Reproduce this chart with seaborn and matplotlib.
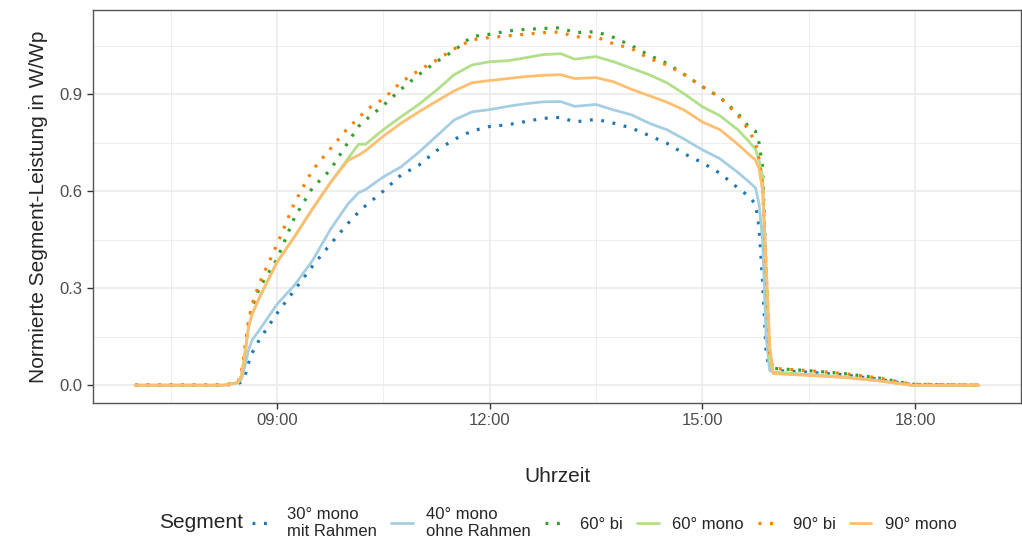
import numpy as np
import pandas as pd
import matplotlib
matplotlib.use("Agg")
import matplotlib.pyplot as plt
import seaborn as sns
from matplotlib.lines import Line2D

# time of day in hours
hours = [7.0, 8.25, 8.45, 8.5, 8.55, 8.6, 8.65, 8.75, 9.0, 9.25, 9.5, 9.75,
         10.0, 10.15, 10.25, 10.5, 10.75, 11.0, 11.25, 11.5, 11.75, 12.0,
         12.25, 12.5, 12.75, 13.0, 13.2, 13.5, 13.75, 14.0, 14.25, 14.5,
         14.75, 15.0, 15.25, 15.5, 15.65, 15.75, 15.8, 15.85, 15.9, 15.95,
         16.0, 16.5, 17.0, 17.5, 17.95, 18.9]

seg_30_mono = [0, 0, 0.005, 0.01, 0.03, 0.07, 0.10, 0.14, 0.222, 0.295, 0.368, 0.435,
               0.50, 0.535, 0.555, 0.60, 0.65, 0.68, 0.725, 0.76, 0.786, 0.80,
               0.805, 0.815, 0.825, 0.828, 0.814, 0.822, 0.81, 0.795, 0.772, 0.748,
               0.715, 0.688, 0.655, 0.61, 0.585, 0.56, 0.49, 0.32, 0.10, 0.046,
               0.046, 0.04, 0.032, 0.018, 0.002, 0]
seg_40_mono = [0, 0, 0.008, 0.02, 0.06, 0.11, 0.14, 0.17, 0.25, 0.31, 0.385, 0.48,
               0.56, 0.595, 0.605, 0.644, 0.675, 0.72, 0.77, 0.82, 0.845, 0.852,
               0.862, 0.87, 0.876, 0.877, 0.862, 0.868, 0.851, 0.836, 0.81, 0.79,
               0.76, 0.728, 0.70, 0.658, 0.63, 0.61, 0.56, 0.45, 0.15, 0.046,
               0.04, 0.033, 0.025, 0.014, 0, 0]
seg_60_bi = [0, 0, 0.008, 0.03, 0.11, 0.19, 0.24, 0.30, 0.39, 0.52, 0.61, 0.665,
             0.75, 0.80, 0.82, 0.865, 0.915, 0.96, 1.0, 1.035, 1.078, 1.085,
             1.095, 1.10, 1.103, 1.105, 1.09, 1.093, 1.075, 1.05, 1.02, 0.995,
             0.96, 0.923, 0.89, 0.84, 0.80, 0.785, 0.748, 0.675, 0.35, 0.10,
             0.052, 0.045, 0.036, 0.022, 0.003, 0]
seg_60_mono = [0, 0, 0.008, 0.03, 0.10, 0.18, 0.22, 0.27, 0.38, 0.46, 0.545, 0.625,
               0.70, 0.745, 0.745, 0.79, 0.83, 0.868, 0.912, 0.96, 0.99, 1.0,
               1.003, 1.012, 1.022, 1.025, 1.008, 1.016, 1.0, 0.98, 0.96, 0.935,
               0.90, 0.861, 0.833, 0.79, 0.755, 0.73, 0.696, 0.644, 0.33, 0.08,
               0.04, 0.033, 0.025, 0.014, 0, 0]
seg_90_bi = [0, 0, 0.01, 0.04, 0.12, 0.20, 0.25, 0.315, 0.435, 0.565, 0.665, 0.73,
             0.795, 0.825, 0.85, 0.885, 0.937, 0.973, 1.005, 1.04, 1.068, 1.075,
             1.08, 1.085, 1.09, 1.092, 1.077, 1.077, 1.055, 1.041, 1.01, 0.99,
             0.96, 0.923, 0.89, 0.835, 0.79, 0.75, 0.70, 0.62, 0.35, 0.10,
             0.052, 0.045, 0.036, 0.022, 0.003, 0]
seg_90_mono = [0, 0, 0.008, 0.03, 0.10, 0.18, 0.22, 0.27, 0.38, 0.46, 0.545, 0.625,
               0.695, 0.711, 0.725, 0.77, 0.81, 0.845, 0.878, 0.91, 0.935, 0.942,
               0.948, 0.954, 0.958, 0.96, 0.948, 0.951, 0.938, 0.915, 0.895, 0.875,
               0.85, 0.814, 0.79, 0.745, 0.715, 0.696, 0.67, 0.60, 0.37, 0.12,
               0.036, 0.03, 0.024, 0.013, 0, 0]

labels = ["30° mono\nmit Rahmen", "40° mono\nohne Rahmen", "60° bi",
          "60° mono", "90° bi", "90° mono"]
colors = ["#1f78b4", "#a6cee3", "#33a02c", "#b2df8a", "#ff7f00", "#fdbf6f"]
dotted = [True, False, True, False, True, False]
series = [seg_30_mono, seg_40_mono, seg_60_bi, seg_60_mono, seg_90_bi, seg_90_mono]

df = pd.concat([pd.DataFrame({"Uhrzeit": hours, "Leistung": s, "Segment": lab})
                for s, lab in zip(series, labels)], ignore_index=True)

sns.set_theme(style="white")
plt.rcParams["font.family"] = ["Liberation Sans", "DejaVu Sans"]

fig = plt.figure(figsize=(10.22, 5.39), dpi=100)
ax = fig.add_axes([93 / 1022, 1 - 403 / 539, (1021 - 93) / 1022, (403 - 10) / 539])

dot_pattern = (0.9, 2.7)
sns.lineplot(data=df, x="Uhrzeit", y="Leistung", hue="Segment", style="Segment",
             hue_order=labels, style_order=labels,
             palette=dict(zip(labels, colors)),
             dashes={lab: (dot_pattern if d else "") for lab, d in zip(labels, dotted)},
             linewidth=2.0, errorbar=None, legend=False, ax=ax)
for line, d in zip(ax.lines, dotted):
    line.set_linewidth(2.3 if d else 2.0)

ax.set_xlim(6.405, 19.495)
ax.set_ylim(-0.055, 1.16)
ax.set_xticks([9, 12, 15, 18])
ax.set_xticklabels(["09:00", "12:00", "15:00", "18:00"])
ax.set_xticks([7.5, 10.5, 13.5, 16.5], minor=True)
ax.set_yticks([0.0, 0.3, 0.6, 0.9])
ax.set_yticklabels(["0.0", "0.3", "0.6", "0.9"])
ax.set_yticks([0.15, 0.45, 0.75, 1.05], minor=True)
ax.grid(True, which="major", color="#EBEBEB", linewidth=1.2)
ax.grid(True, which="minor", color="#EBEBEB", linewidth=0.6)
ax.set_axisbelow(True)
for sp in ax.spines.values():
    sp.set_color("#555555")
    sp.set_linewidth(1.0)
ax.tick_params(which="major", length=4, width=1, color="#333333",
               labelcolor="#4D4D4D", labelsize=12, bottom=True, left=True)
ax.tick_params(which="minor", length=0)

ax.set_xlabel("Uhrzeit", fontsize=15, labelpad=28)
ax.set_ylabel("Normierte Segment-Leistung in W/Wp", fontsize=15, labelpad=8)

handles = [Line2D([], [], color=c, linewidth=2.3 if d else 2.0,
                  linestyle=(0, dot_pattern) if d else "-")
           for c, d in zip(colors, dotted)]
fig.text(159 / 1022, 1 - 523 / 539, "Segment", fontsize=15, va="center", ha="left")
fig.legend(handles, labels, loc="center left", bbox_to_anchor=(237 / 1022, 1 - 523 / 539),
           ncol=6, frameon=False, fontsize=12, handlelength=1.3, handletextpad=0.8,
           columnspacing=0.85, labelspacing=0.2, borderpad=0.4)

fig.savefig("out.png", dpi=100)
